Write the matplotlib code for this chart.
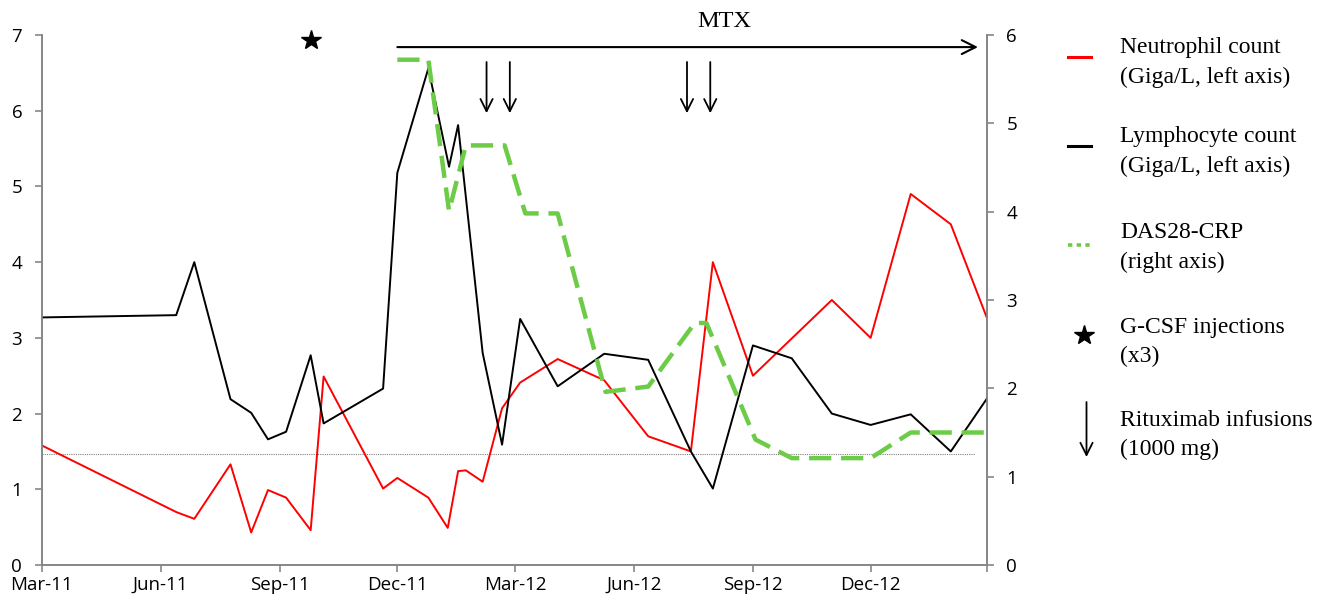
import matplotlib
matplotlib.use("Agg")
import matplotlib.pyplot as plt
import matplotlib.dates as mdates
from matplotlib.lines import Line2D
import numpy as np

# lymphocyte count (Giga/L, left axis)
lym_dates = ["2011-03-01", "2011-06-13", "2011-06-27", "2011-07-25", "2011-08-10",
             "2011-08-23", "2011-09-06", "2011-09-25", "2011-10-05", "2011-11-20",
             "2011-12-01", "2011-12-25", "2012-01-10", "2012-01-17", "2012-02-05",
             "2012-02-20", "2012-03-05", "2012-04-03", "2012-05-09", "2012-06-12",
             "2012-07-15", "2012-08-01", "2012-09-01", "2012-10-01", "2012-11-01",
             "2012-12-01", "2013-01-01", "2013-02-01", "2013-03-01"]
lym_vals = [3.27, 3.30, 4.00, 2.19, 2.01, 1.66, 1.76, 2.77, 1.87, 2.33,
            5.18, 6.56, 5.26, 5.81, 2.80, 1.59, 3.25, 2.36, 2.79, 2.71,
            1.50, 1.01, 2.90, 2.73, 2.00, 1.85, 1.99, 1.50, 2.20]

# neutrophil count (Giga/L, left axis)
neu_dates = ["2011-03-01", "2011-06-13", "2011-06-27", "2011-07-25", "2011-08-10",
             "2011-08-23", "2011-09-06", "2011-09-25", "2011-10-05", "2011-11-20",
             "2011-12-01", "2011-12-25", "2012-01-09", "2012-01-17", "2012-01-23",
             "2012-02-05", "2012-02-20", "2012-03-05", "2012-04-03", "2012-05-09",
             "2012-06-12", "2012-07-15", "2012-08-01", "2012-09-01", "2012-11-01",
             "2012-12-01", "2013-01-01", "2013-02-01", "2013-03-01"]
neu_vals = [1.58, 0.70, 0.61, 1.33, 0.43, 0.99, 0.89, 0.46, 2.49, 1.01,
            1.15, 0.89, 0.49, 1.24, 1.25, 1.10, 2.07, 2.41, 2.72, 2.44,
            1.70, 1.50, 4.00, 2.50, 3.50, 3.00, 4.90, 4.50, 3.26]

# DAS28-CRP (right axis)
das_dates = ["2011-12-01", "2011-12-25", "2012-01-10", "2012-01-23", "2012-02-22",
             "2012-03-09", "2012-04-03", "2012-05-10", "2012-06-12", "2012-07-18",
             "2012-07-27", "2012-09-03", "2012-10-01", "2012-12-01", "2013-01-01",
             "2013-03-01"]
das_vals = [5.72, 5.72, 4.01, 4.75, 4.75, 3.98, 3.98, 1.96, 2.02, 2.74,
            2.74, 1.42, 1.21, 1.21, 1.50, 1.50]

ritux_dates = ["2012-02-08", "2012-02-26", "2012-07-12", "2012-07-30"]
gcsf_date = "2011-09-25"
mtx_start, mtx_end = "2011-12-01", "2013-02-22"
threshold = 1.47

tick_dates = ["2011-03-01", "2011-06-01", "2011-09-01", "2011-12-01", "2012-03-01",
              "2012-06-01", "2012-09-01", "2012-12-01", "2013-03-01"]
tick_labels = ["Mar-11", "Jun-11", "Sep-11", "Dec-11", "Mar-12",
               "Jun-12", "Sep-12", "Dec-12", ""]


def d(s):
    return mdates.datestr2num(s)


tick_font = "Open Sans"
serif = ["Liberation Serif", "DejaVu Serif"]
spine_col = "#868686"

fig = plt.figure(figsize=(13.32, 6.0), dpi=100)
ax = fig.add_axes([0.0313, 0.0583, 0.7097, 0.8834])
ax2 = ax.twinx()

ax.plot([d(s) for s in neu_dates], neu_vals, color="#ff0000", lw=1.4, zorder=3)
ax.plot([d(s) for s in lym_dates], lym_vals, color="black", lw=1.4, zorder=3)
ax2.plot([d(s) for s in das_dates], das_vals, color="#6dcc47", lw=3.2,
         dashes=(5, 2.2), zorder=2)

ax.plot([d("2011-03-01"), d("2013-02-20")], [threshold, threshold],
        color="#808080", lw=0.8, ls=(0, (1, 1)), zorder=1)

# G-CSF star
ax.plot([d(gcsf_date)], [6.94], marker="*", color="black", ms=15, clip_on=False)

# rituximab arrows
for s in ritux_dates:
    ax.annotate("", xy=(d(s), 5.93), xytext=(d(s), 6.68),
                arrowprops=dict(arrowstyle="->", color="black", lw=1.3,
                                mutation_scale=22))

# MTX arrow
ax.annotate("", xy=(d(mtx_end), 6.84), xytext=(d(mtx_start), 6.84),
            arrowprops=dict(arrowstyle="->", color="black", lw=1.5,
                            mutation_scale=25, shrinkA=0, shrinkB=0))
ax.text(d("2012-08-10"), 7.18, "MTX", ha="center", va="center",
        family=serif, fontsize=17.5, clip_on=False)

ax.set_xlim(d("2011-03-01"), d("2013-03-01"))
ax.set_ylim(0, 7)
ax2.set_ylim(0, 6)
ax.set_xticks([d(s) for s in tick_dates])
ax.set_xticklabels(tick_labels, family=tick_font, fontsize=13.5)
ax.set_yticks(range(8))
ax.set_yticklabels([str(i) for i in range(8)], family=tick_font, fontsize=13.5)
ax2.set_yticks(range(7))
ax2.set_yticklabels([str(i) for i in range(7)], family=tick_font, fontsize=13.5)

for a in (ax, ax2):
    a.spines["top"].set_visible(False)
    for sp in ("left", "right", "bottom"):
        a.spines[sp].set_color(spine_col)
        a.spines[sp].set_linewidth(1.2)
    a.tick_params(colors=spine_col, labelcolor="black", length=5, width=1.2, pad=9)
ax.tick_params(axis="x", pad=3)

# legend drawn by hand on the right
W, H = 1332.0, 600.0


def fx(px):
    return px / W


def fy(py):
    return 1 - py / H


leg_items = [
    (57, ["Neutrophil count", "(Giga/L, left axis)"], 48),
    (146, ["Lymphocyte count", "(Giga/L, left axis)"], 137),
    (245, ["DAS28-CRP", "(right axis)"], 233),
    (335, ["G-CSF injections", "(x3)"], 327),
    (430, ["Rituximab infusions", "(1000 mg)"], 420),
]
fig.add_artist(Line2D([fx(1068), fx(1091)], [fy(57), fy(57)], color="#ff0000", lw=2.2))
fig.add_artist(Line2D([fx(1068), fx(1091)], [fy(146), fy(146)], color="black", lw=2.2))
fig.add_artist(Line2D([fx(1068), fx(1090)], [fy(245), fy(245)], color="#6dcc47", lw=2.6,
                      dashes=(1.2, 1.2)))
fig.add_artist(Line2D([fx(1084)], [fy(335)], marker="*", color="black", ms=15, lw=0))
fig.add_artist(matplotlib.patches.FancyArrowPatch(
    (fx(1086.5), fy(402)), (fx(1086.5), fy(457)), transform=fig.transFigure,
    arrowstyle="->", color="black", lw=1.3, mutation_scale=22, shrinkA=0, shrinkB=0))
for _, lines, ty in leg_items:
    fig.text(fx(1120), fy(ty), lines[0], family=serif, fontsize=17, va="center")
    fig.text(fx(1120), fy(ty + 29), lines[1], family=serif, fontsize=17, va="center")

fig.savefig("out.png", dpi=100)
